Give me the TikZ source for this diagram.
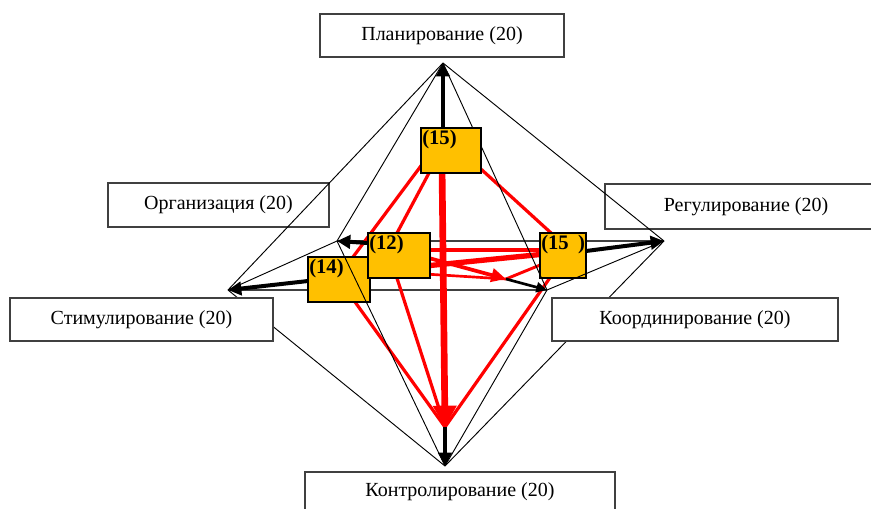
\documentclass[tikz,border=0pt]{standalone}
\usepackage{fontspec}
\setmainfont{Liberation Serif}
\usetikzlibrary{arrows.meta}
\definecolor{boxyel}{HTML}{FFC000}
\definecolor{lblline}{HTML}{404040}
\begin{document}
\begin{tikzpicture}[x=0.75pt,y=-0.75pt,
  lbl/.style={draw=lblline, line width=1.1pt, fill=white, inner sep=0pt, font=\fontsize{15}{18}\selectfont},
  ybox/.style={draw=black, line width=1.5pt, fill=boxyel, inner sep=0pt, minimum height=33.75pt},
  ynum/.style={anchor=north west, inner sep=0pt, xshift=1.5pt, yshift=-2.5pt, font=\bfseries\fontsize{15.5}{17}\selectfont},
  wire/.style={line width=0.7pt, black},
  hline/.style={line width=1pt, black!75},
  redthin/.style={line width=2.4pt, red},
  redthick/.style={line width=5pt, red},
  barrow/.style={line width=3pt, black, -{Triangle[length=10pt,width=10pt]}},
  sarrow/.style={line width=2pt, black, -{Triangle[length=8pt,width=7.5pt]}},
]
\useasboundingbox (0,0) rectangle (871,508);
% outer vertices
\coordinate (T) at (443,63);
\coordinate (B) at (445,466);
\coordinate (L) at (228,290);
\coordinate (R) at (664,241);
\coordinate (IL) at (337,241);
\coordinate (IR) at (547,290);
% inner vertices
\coordinate (Bp) at (445,427);
\coordinate (IRp) at (506,279);

% label boxes lying under the wires
\node[lbl, minimum width=165.75pt, minimum height=33pt] (org) at (218.5,205) {Организация (20)};
\node[lbl, minimum width=211.5pt, minimum height=33.75pt] (reg) at (746,206.5) {Регулирование (20)};

% equator lines
\draw[hline] (IL) -- (R);
\draw[hline] (L) -- (IR);

% red lines
\coordinate (ra1) at (431,152.4);  \coordinate (ra2) at (350.3,260.6);
\coordinate (rb1) at (438.6,155);  \coordinate (rb2) at (395.4,236);
\coordinate (rc1) at (468.4,157.6);\coordinate (rc2) at (553.4,235.1);
\coordinate (rd1) at (442,165);
\coordinate (re1) at (350.6,295.8);
\coordinate (rf1) at (395,272);
\coordinate (rg1) at (554,272);
\draw[redthin] (ra1) -- (ra2);
\draw[redthin] (rb1) -- (rb2);
\draw[redthin] (rc1) -- (rc2);
\draw[redthin] (re1) -- (Bp);
\draw[redthin] (rf1) -- (Bp);
\draw[redthin] (rg1) -- (Bp);
\draw[redthick, -{Triangle[length=16pt,width=17pt]}] (rd1) -- (Bp);
% red lines between (12) and (15)
\coordinate (rm1) at (425,250); \coordinate (rm2) at (545,250);
\coordinate (rn1) at (425,266); \coordinate (rn2) at (545,254);
\coordinate (ro1) at (425,257);
\coordinate (rp1) at (545,263);
\coordinate (rq1) at (425,274);
\draw[line width=2.8pt, red] (rm1) -- (rm2);
\draw[line width=4pt, red] (rn1) -- (rn2);
\draw[line width=2pt, red] (rq1) -- (IRp);
\draw[line width=2.2pt, red] (rp1) -- (IRp);
\draw[line width=2.8pt, red, -{Triangle[length=11pt,width=10pt]}] (ro1) -- (IRp);

% yellow boxes (under the wires)
\node[ybox, minimum width=46.5pt, label={[ynum]north west:(14)}] (y14) at (339,279.5) {};
\node[ybox, minimum width=46.5pt, label={[ynum]north west:(12)}] (y12) at (399,255.5) {};
\node[ybox, minimum width=34.5pt, label={[ynum]north west:(15\hspace{0.45em})}] (y15r) at (563,255.5) {};

% wireframe
\draw[wire] (T) -- (L);
\draw[wire] (T) -- (IL);
\draw[wire] (T) -- (IR);
\draw[wire] (T) -- (R);
\draw[wire] (B) -- (L);
\draw[wire] (B) -- (IL);
\draw[wire] (B) -- (IR);
\draw[wire] (B) -- (R);
\draw[wire] (L) -- (IL);
\draw[wire] (IR) -- (R);

% top yellow box
\node[ybox, minimum width=45pt, label={[ynum]north west:(15)}] (y15t) at (451,150.5) {};

% black arrows
\coordinate (a15t) at (443,128.5);
\coordinate (a12) at (368,243);
\coordinate (a14) at (308,281);
\coordinate (a15r) at (586,251);
\draw[barrow] (a15t) -- (T);
\draw[barrow] (a12) -- (IL);
\draw[barrow] (a14) -- (L);
\draw[barrow] (a15r) -- (R);
\draw[sarrow] (IRp) -- (IR);
\draw[barrow] (Bp) -- (B);

% label boxes lying over the wires
\node[lbl, minimum width=197.25pt, minimum height=32.25pt] (stim) at (141.5,319.5) {Стимулирование (20)};
\node[lbl, minimum width=214.5pt, minimum height=32.25pt] (koord) at (695,319.5) {Координирование (20)};
\node[lbl, minimum width=183pt, minimum height=32.25pt] (plan) at (442,35.5) {Планирование (20)};
\node[lbl, minimum width=232.5pt, minimum height=30pt] (kontr) at (460,492) {Контролирование (20)};
\end{tikzpicture}
\end{document}
